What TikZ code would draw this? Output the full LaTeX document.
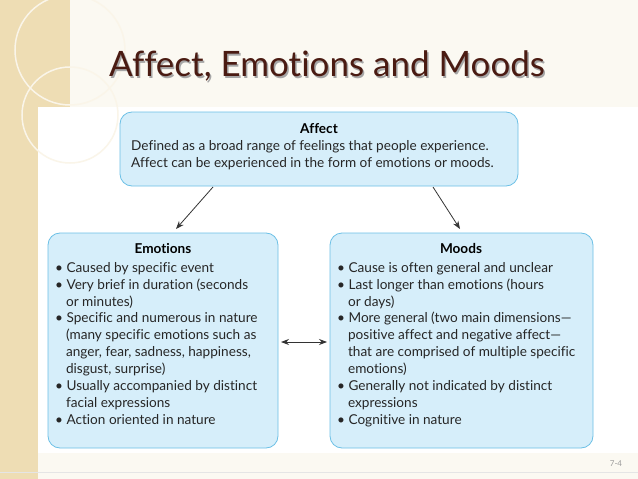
\documentclass[tikz,border=0pt]{standalone}
\usepackage{fontspec}
\setmainfont[RawFeature=-liga]{Lato}
\usepackage{xcolor}
\usetikzlibrary{arrows.meta}
\definecolor{boxfill}{HTML}{D6EEFA}
\definecolor{boxline}{HTML}{6CC0E6}
\definecolor{titlebrown}{HTML}{4A1B12}
\definecolor{stripbeige}{HTML}{EEDDB4}
\definecolor{pagecream}{HTML}{FBF9F2}
\newcommand{\bul}{\textbullet\ }
\newcommand{\ind}{\hspace*{0.8em}}

\begin{document}
\begin{tikzpicture}[x=1pt, y=-1pt]
      \tikzstyle infobox=[draw=boxline, fill=boxfill, thick, rounded corners=12pt];
      \tikzstyle boxtext=[anchor=north west, inner sep=0pt, align=left, font=\fontsize{13.6}{16.9}\selectfont, text=black!85];
      \tikzstyle link=[-{Stealth[length=8pt]}, thick, black!80];

      \useasboundingbox (0, 0) rectangle (638, 479);
      \fill[pagecream] (0, 0) rectangle (638, 479);
      \fill[stripbeige] (0, 0) rectangle (70, 107);
      \fill[stripbeige] (0, 107) rectangle (38, 479);
      \fill[white] (38, 107) rectangle (638, 453);
      %the faint rings on the strip
      \draw[white!70!stripbeige, line width=1.5pt] (70, 50) circle (55);
      \draw[white!70!stripbeige, line width=1.5pt] (70, 115) circle (48);
      \draw[black!10] (0, 472) -- (638, 472);

      %title
      \node[text=black!35, font=\fontsize{35}{36}\selectfont] at (328.5, 67.5) {Affect, Emotions and Moods};
      \node[text=titlebrown, font=\fontsize{35}{36}\selectfont] (title) at (327, 66) {Affect, Emotions and Moods};

      %boxes
      \draw[infobox] (120, 112) rectangle (518, 186);
      \draw[infobox] (48, 233) rectangle (278, 448);
      \draw[infobox] (330, 233) rectangle (593, 448);

      \node[font=\bfseries\fontsize{13.6}{15}\selectfont] (affecthead) at (319, 129) {Affect};
      \node[boxtext] (affecttext) at (131, 140) {Defined as a broad range of feelings that people experience.\\
         Affect can be experienced in the form of emotions or moods.};

      \node[font=\bfseries\fontsize{13.6}{15}\selectfont] (emohead) at (163, 249) {Emotions};
      \node[boxtext] (emotext) at (55, 262) {\bul Caused by specific event\\
         \bul Very brief in duration (seconds\\ \ind or minutes)\\
         \bul Specific and numerous in nature\\ \ind(many specific emotions such as\\
         \ind anger, fear, sadness, happiness,\\ \ind disgust, surprise)\\
         \bul Usually accompanied by distinct\\ \ind facial expressions\\
         \bul Action oriented in nature};

      \node[font=\bfseries\fontsize{13.6}{15}\selectfont] (moodhead) at (461, 249) {Moods};
      \node[boxtext] (moodtext) at (337, 262) {\bul Cause is often general and unclear\\
         \bul Last longer than emotions (hours\\ \ind or days)\\
         \bul More general (two main dimensions---\\ \ind positive affect and negative affect---\\
         \ind that are comprised of multiple specific\\ \ind emotions)\\
         \bul Generally not indicated by distinct\\ \ind expressions\\
         \bul Cognitive in nature};

      %arrows
      \coordinate (la) at (213, 187);
      \coordinate (lb) at (176, 229);
      \coordinate (ra) at (433, 187);
      \coordinate (rb) at (460, 229);
      \coordinate (ma) at (281, 342);
      \coordinate (mb) at (327, 342);
      \draw[link] (la) -- (lb);
      \draw[link] (ra) -- (rb);
      \draw[link, {Stealth[length=8pt]}-{Stealth[length=8pt]}] (ma) -- (mb);

      \node[text=black!40, font=\fontsize{8}{9}\selectfont] (pagenum) at (616, 464) {7-4};
\end{tikzpicture}
\end{document}
